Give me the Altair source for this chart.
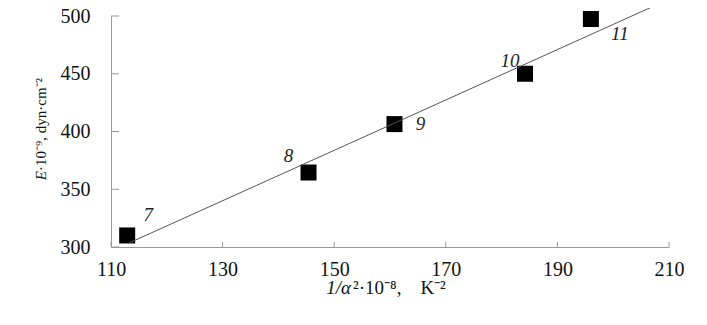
import altair as alt
import pandas as pd

# ---- data ----
x_vals = [112.9, 145.4, 160.8, 184.2, 196.0]
y_vals = [310.0, 364.5, 406.4, 450.0, 497.4]
point_labels = ["7", "8", "9", "10", "11"]
fit_x = [113.0, 207.0]
fit_y = [303.0, 508.0]
x_ticks = [110, 130, 150, 170, 190, 210]
y_ticks = [300, 350, 400, 450, 500]

# ---- style ----
W, H = 558, 231
FONT = "Liberation Serif"
AX_COL = "#9a9a9a"
label_offsets = {"7": (21, -20), "8": (-20, -17), "9": (26, 0), "10": (-15, -13), "11": (29, 15)}

pts = pd.DataFrame({"x": x_vals, "y": y_vals, "lab": point_labels})
fit = pd.DataFrame({"x": fit_x, "y": fit_y})

xscale = alt.Scale(domain=[110, 210], nice=False, zero=False)
yscale = alt.Scale(domain=[300, 500], nice=False, zero=False)

xaxis = alt.Axis(values=x_ticks, tickSize=0, domainColor=AX_COL, domainWidth=1,
                 labelFont=FONT, labelFontSize=20, labelColor="#111", labelPadding=12,
                 grid=False, title=None, labelOverlap=False, labelFlush=False)
yaxis = alt.Axis(values=y_ticks, tickSize=0, domainColor=AX_COL, domainWidth=1,
                 labelFont=FONT, labelFontSize=20, labelColor="#111", labelPadding=21,
                 grid=False, title=None, labelOverlap=False, labelFlush=False)

squares = alt.Chart(pts).mark_square(size=256, color="black", opacity=1).encode(
    x=alt.X("x:Q", scale=xscale, axis=xaxis),
    y=alt.Y("y:Q", scale=yscale, axis=yaxis),
)

line = alt.Chart(fit).mark_line(color="#555555", strokeWidth=1, clip=False).encode(
    x=alt.X("x:Q", scale=xscale, axis=xaxis),
    y=alt.Y("y:Q", scale=yscale, axis=yaxis),
)

xt = alt.Chart(pd.DataFrame({"t": x_ticks})).mark_rule(color=AX_COL, strokeWidth=1).encode(
    x=alt.X("t:Q", scale=xscale, axis=xaxis), y=alt.value(H - 5), y2=alt.value(H)
)
yt = alt.Chart(pd.DataFrame({"t": y_ticks})).mark_rule(color=AX_COL, strokeWidth=1).encode(
    y=alt.Y("t:Q", scale=yscale, axis=yaxis), x=alt.value(0), x2=alt.value(8)
)

label_layers = []
for lab in point_labels:
    dx, dy = label_offsets[lab]
    label_layers.append(
        alt.Chart(pts).transform_filter(alt.datum.lab == lab).mark_text(
            font=FONT, fontSize=19, fontStyle="italic", color="#222",
            align="center", baseline="middle", dx=dx, dy=dy
        ).encode(
            x=alt.X("x:Q", scale=xscale, axis=xaxis),
            y=alt.Y("y:Q", scale=yscale, axis=yaxis),
            text="lab:N",
        )
    )

NB = "\u00a0"
one = pd.DataFrame({"a": [0]})
xt1 = alt.Chart(one).mark_text(text="1/α", font=FONT, fontSize=19, fontStyle="italic",
                               color="#111", align="right", baseline="alphabetic").encode(
    x=alt.value(240), y=alt.value(278))
xt2 = alt.Chart(one).mark_text(text="²·10⁻⁸," + NB * 4 + "K⁻²", font=FONT, fontSize=19,
                               color="#111", align="left", baseline="alphabetic").encode(
    x=alt.value(242), y=alt.value(278))
yt1 = alt.Chart(one).mark_text(text="E", font=FONT, fontSize=15, fontStyle="italic", angle=270,
                               color="#111", align="right", baseline="alphabetic").encode(
    x=alt.value(-65), y=alt.value(155))
yt2 = alt.Chart(one).mark_text(text="·10⁻⁹, dyn·cm⁻²", font=FONT, fontSize=15, angle=270,
                               color="#111", align="left", baseline="alphabetic").encode(
    x=alt.value(-65), y=alt.value(155))

chart = alt.layer(squares, line, xt, yt, *label_layers, xt1, xt2, yt1, yt2).properties(
    width=W, height=H,
    autosize=alt.AutoSizeParams(type="none"),
    padding={"left": 103, "top": 8, "right": 30, "bottom": 70},
    background="white",
).configure_view(stroke=None)

chart.save("out.html", embed_options={"renderer": "svg", "actions": False})
